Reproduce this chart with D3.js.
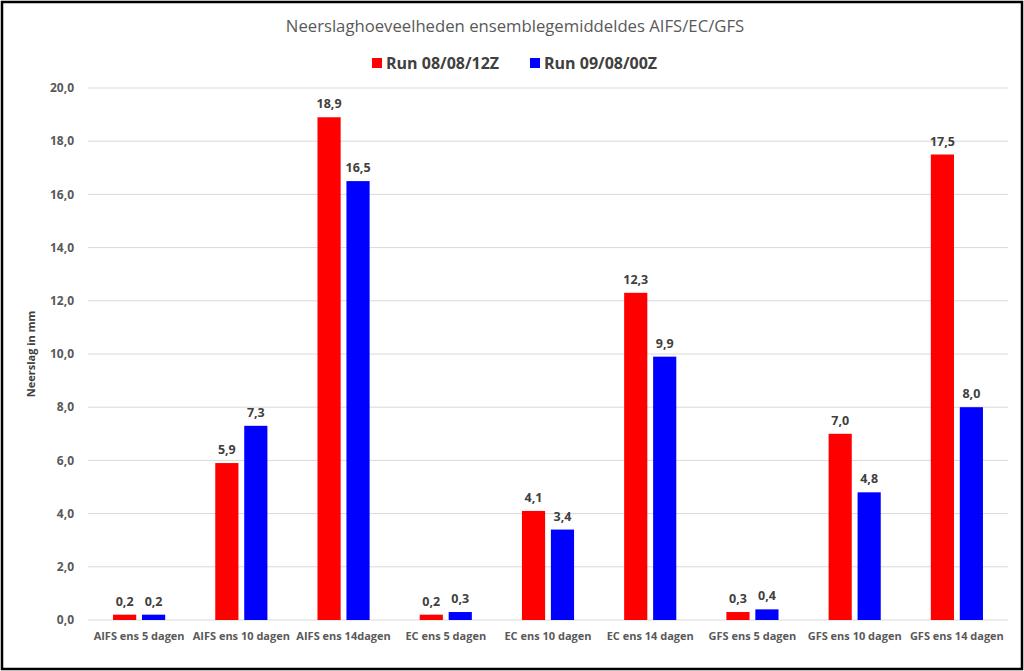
<!DOCTYPE html>
<html lang="nl">
<head>
<meta charset="UTF-8">
<title>Neerslaghoeveelheden ensemblegemiddeldes AIFS/EC/GFS</title>
<script src="https://d3js.org/d3.v7.min.js"></script>
<style>
    html, body { margin: 0; padding: 0; background: #fff; }
    svg { display: block; font-family: "Open Sans", sans-serif; }
</style>
</head>
<body>
<div id="chart"></div>
<script>
const categories = ["AIFS ens 5 dagen", "AIFS ens 10 dagen", "AIFS ens 14dagen",
    "EC ens 5 dagen", "EC ens 10 dagen", "EC ens 14 dagen",
    "GFS ens 5 dagen", "GFS ens 10 dagen", "GFS ens 14 dagen"];
const seriesNames = ["Run 08/08/12Z", "Run 09/08/00Z"];
const run0808 = [0.2, 5.9, 18.9, 0.2, 4.1, 12.3, 0.3, 7.0, 17.5];
const run0908 = [0.2, 7.3, 16.5, 0.3, 3.4, 9.9, 0.4, 4.8, 8.0];
const yTicks = [0, 2, 4, 6, 8, 10, 12, 14, 16, 18, 20];
const colors = ["#ff0000", "#0000ff"];

const W = 1024, H = 671;
const margin = { left: 88, right: 16, top: 88, bottom: 51 };

const nl = d3.formatLocale({ decimal: ",", thousands: ".", grouping: [3], currency: ["€", ""] });
const fmt = nl.format(".1f");

const svg = d3.select("#chart").append("svg")
    .attr("width", W).attr("height", H);

// frame
svg.append("rect")
    .attr("x", 2).attr("y", 2)
    .attr("width", W - 4).attr("height", H - 4)
    .attr("fill", "#fff").attr("stroke", "#000").attr("stroke-width", 2.5);

const x0 = d3.scaleBand().domain(categories).range([margin.left, W - margin.right]);
const groupW = x0.bandwidth() * 0.51;
const x1 = d3.scaleBand().domain(seriesNames).range([0, groupW]).paddingInner(0.2);
const y = d3.scaleLinear().domain([0, 20]).range([H - margin.bottom, margin.top]);

// gridlines
svg.append("g")
    .selectAll("line").data(yTicks).join("line")
    .attr("x1", margin.left).attr("x2", W - margin.right)
    .attr("y1", d => y(d)).attr("y2", d => y(d))
    .attr("stroke", "#d9d9d9").attr("stroke-width", 1);

// y tick labels
svg.append("g")
    .selectAll("text").data(yTicks).join("text")
    .attr("x", 74).attr("y", d => y(d)).attr("dy", "0.35em")
    .attr("text-anchor", "end")
    .attr("font-size", 12).attr("font-weight", "bold").attr("fill", "#595959")
    .text(d => fmt(d));

// y axis title
svg.append("text")
    .attr("transform", `translate(35,${(y(0) + y(20)) / 2}) rotate(-90)`)
    .attr("text-anchor", "middle")
    .attr("font-size", 11).attr("font-weight", "bold").attr("fill", "#404040")
    .text("Neerslag in mm");

const data = categories.map((c, i) => ({ cat: c, vals: [run0808[i], run0908[i]] }));

const groups = svg.append("g").selectAll("g").data(data).join("g")
    .attr("transform", d => `translate(${x0(d.cat) + (x0.bandwidth() - groupW) / 2},0)`);

groups.selectAll("rect")
    .data(d => d.vals.map((v, k) => ({ k, v })))
    .join("rect")
    .attr("x", d => x1(seriesNames[d.k]))
    .attr("width", x1.bandwidth())
    .attr("y", d => y(d.v))
    .attr("height", d => y(0) - y(d.v))
    .attr("fill", d => colors[d.k]);

groups.selectAll("text.val")
    .data(d => d.vals.map((v, k) => ({ k, v })))
    .join("text")
    .attr("class", "val")
    .attr("x", d => x1(seriesNames[d.k]) + x1.bandwidth() / 2)
    .attr("y", d => y(d.v) - 9)
    .attr("text-anchor", "middle")
    .attr("font-size", 12.5).attr("font-weight", "bold").attr("fill", "#404040")
    .text(d => fmt(d.v));

// category labels
svg.append("g").selectAll("text").data(categories).join("text")
    .attr("x", d => x0(d) + x0.bandwidth() / 2)
    .attr("y", y(0) + 20)
    .attr("text-anchor", "middle")
    .attr("font-size", 11).attr("font-weight", "bold").attr("fill", "#595959")
    .text(d => d);

// title
svg.append("text")
    .attr("x", 515).attr("y", 32)
    .attr("text-anchor", "middle")
    .attr("font-size", 16.7).attr("fill", "#595959")
    .text("Neerslaghoeveelheden ensemblegemiddeldes AIFS/EC/GFS");

// legend
const legendX = [372, 530];
const legend = svg.append("g").selectAll("g").data(seriesNames).join("g")
    .attr("transform", (d, i) => `translate(${legendX[i]},63)`);
legend.append("rect")
    .attr("x", 0).attr("y", -5).attr("width", 10).attr("height", 10)
    .attr("fill", (d, i) => colors[i]);
legend.append("text")
    .attr("x", 14).attr("dy", "0.35em")
    .attr("font-size", 16).attr("font-weight", "bold").attr("fill", "#404040")
    .text(d => d);
</script>
</body>
</html>
